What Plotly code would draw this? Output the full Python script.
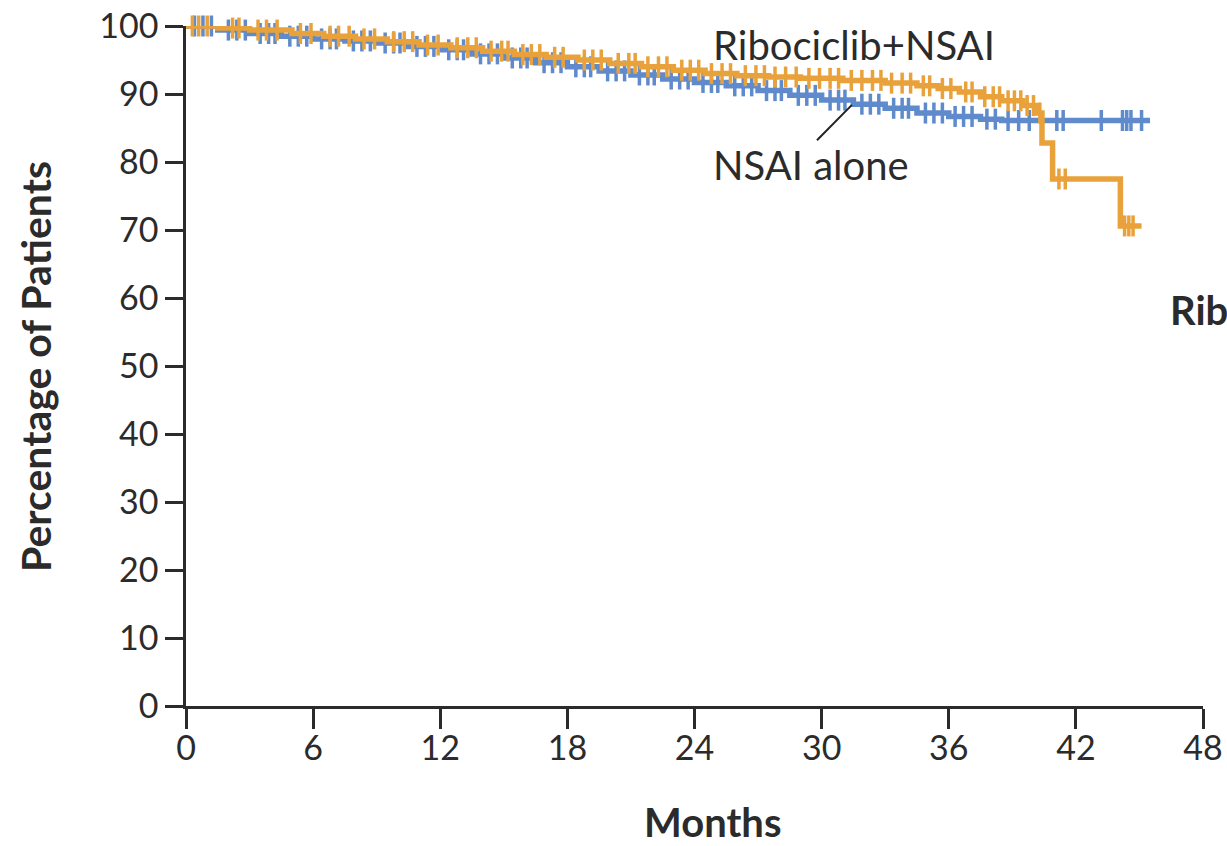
import plotly.graph_objects as go
import bisect

# ---- data ----
# Ribociclib+NSAI : step curve (time in months, percent surviving)
ribo_t = [0, 1.5, 3.0, 5.0, 6.5, 8.0, 9.5, 11.0, 12.5, 14.0, 15.5, 17.0, 18.5, 20.0, 21.5,
          23.0, 24.5, 26.0, 27.5, 29.0, 31.0, 33.0, 34.5, 35.5, 36.5, 37.5, 38.5, 39.5,
          40.2, 40.4, 40.9, 44.1]
ribo_s = [100, 99.7, 99.4, 98.9, 98.5, 98.1, 97.7, 97.2, 96.8, 96.3, 95.8, 95.4, 95.0, 94.5,
          94.0, 93.5, 93.0, 92.7, 92.5, 92.3, 92.0, 91.6, 91.2, 90.8, 90.3, 89.6, 89.0, 88.3,
          87.2, 82.8, 77.5, 70.6]
ribo_end = 45.1
ribo_censor = [0.3, 0.6, 1.0, 2.2, 2.5, 3.4, 3.8, 4.3, 5.4, 5.9, 6.8, 7.2, 7.7, 8.4, 8.9,
               9.8, 10.3, 10.7, 11.4, 11.9, 12.8, 13.3, 13.7, 14.4, 14.9, 15.2, 15.9, 16.3,
               16.7, 17.4, 17.8, 18.8, 19.2, 19.6, 20.4, 20.9, 21.2, 21.8, 22.3, 22.7, 23.4,
               23.8, 24.2, 24.8, 25.3, 25.7, 26.4, 26.9, 27.3, 27.8, 28.3, 28.8, 29.4, 29.9,
               30.4, 30.8, 31.4, 31.9, 32.4, 32.8, 33.3, 33.8, 34.2, 34.8, 35.1, 35.7, 36.1,
               36.8, 37.1, 37.7, 38.1, 38.4, 38.8, 39.1, 39.4, 39.7, 40.0, 40.3, 41.2, 41.5,
               44.3, 44.5, 44.7]

# NSAI alone
nsai_t = [0, 1.5, 3.0, 4.5, 6.0, 7.5, 9.0, 10.5, 12.0, 13.5, 15.0, 16.5, 18.0, 19.5, 21.0,
          22.5, 24.0, 25.5, 27.0, 28.5, 30.0, 31.5, 33.0, 34.5, 36.0, 37.5, 38.5]
nsai_s = [100, 99.4, 98.9, 98.5, 98.1, 97.8, 97.5, 97.0, 96.5, 95.9, 95.3, 94.6, 94.0, 93.4,
          92.8, 92.2, 91.7, 91.2, 90.5, 89.8, 89.1, 88.5, 87.9, 87.2, 86.7, 86.3, 86.1]
nsai_end = 45.5
nsai_censor = [0.4, 0.8, 1.2, 2.0, 2.4, 2.8, 3.5, 3.9, 4.2, 4.9, 5.3, 5.7, 6.4, 6.8, 7.1,
               7.9, 8.3, 8.7, 9.4, 9.8, 10.1, 10.9, 11.3, 11.7, 12.4, 12.8, 13.1, 13.9,
               14.3, 14.7, 15.4, 15.8, 16.1, 16.9, 17.3, 17.7, 18.4, 18.8, 19.1, 19.9, 20.3,
               20.7, 21.4, 21.8, 22.1, 22.9, 23.3, 23.7, 24.4, 24.8, 25.1, 25.9, 26.3, 26.7,
               27.4, 27.8, 28.1, 28.9, 29.3, 29.7, 30.4, 30.8, 31.1, 31.9, 32.3, 32.7, 33.4,
               33.8, 34.1, 34.9, 35.3, 35.7, 36.3, 36.7, 37.1, 37.8, 38.2, 38.8, 39.3, 39.8,
               41.1, 41.4, 43.2, 44.2, 44.4, 44.6, 45.1]

x_ticks = [0, 6, 12, 18, 24, 30, 36, 42, 48]
y_ticks = [0, 10, 20, 30, 40, 50, 60, 70, 80, 90, 100]

ORANGE = "#E9A23B"
BLUE = "#5F8ACB"


def step_value(ts, ss, t):
    i = bisect.bisect_right(ts, t) - 1
    return ss[max(i, 0)]


fig = go.Figure()

for ts, ss, tend, cens, col in [
    (nsai_t, nsai_s, nsai_end, nsai_censor, BLUE),
    (ribo_t, ribo_s, ribo_end, ribo_censor, ORANGE),
]:
    fig.add_trace(go.Scatter(
        x=ts + [tend], y=ss + [ss[-1]], mode="lines",
        line=dict(shape="hv", color=col, width=5.5),
        cliponaxis=False, showlegend=False, hoverinfo="skip"))
    fig.add_trace(go.Scatter(
        x=cens, y=[step_value(ts, ss, c) for c in cens], mode="markers",
        marker=dict(symbol="line-ns", size=15, line=dict(color=col, width=3.5)),
        cliponaxis=False, showlegend=False, hoverinfo="skip"))

FONT = "Lato"
TXT = "#2b2b2b"

fig.update_layout(
    width=1227, height=846,
    margin=dict(l=186, r=24, t=26, b=140),
    paper_bgcolor="white", plot_bgcolor="white",
    font=dict(family=FONT, color=TXT),
    xaxis=dict(range=[0, 48], tickvals=x_ticks, ticktext=[str(v) for v in x_ticks],
               showgrid=False, zeroline=False, showline=True, linecolor=TXT, linewidth=2.5,
               ticks="outside", ticklen=20, tickwidth=2.5, tickcolor=TXT, automargin=False,
               ticklabelstandoff=-10,
               tickfont=dict(size=34, family=FONT, color=TXT)),
    yaxis=dict(range=[0, 100], tickvals=y_ticks, ticktext=[str(v) for v in y_ticks],
               showgrid=False, zeroline=False, showline=True, linecolor=TXT, linewidth=2.5,
               ticks="outside", ticklen=18, tickwidth=2.5, tickcolor=TXT, automargin=False,
               tickfont=dict(size=34, family=FONT, color=TXT)),
    annotations=[
        dict(text="Ribociclib+NSAI", x=24.8, y=97.2, xref="x", yref="y", xanchor="left",
             yanchor="middle", showarrow=False, font=dict(size=40, family=FONT, color=TXT)),
        dict(text="NSAI alone", x=24.8, y=79.6, xref="x", yref="y", xanchor="left",
             yanchor="middle", showarrow=False, font=dict(size=40, family=FONT, color=TXT)),
        dict(text="<b>Rib</b>", x=0.9656, y=58.2, xref="paper", yref="y", xanchor="left",
             yanchor="middle", showarrow=False, font=dict(size=40, family=FONT, color=TXT)),
        dict(text="<b>Percentage of Patients</b>", x=-0.1485, y=0.5, xref="paper",
             yref="paper", xanchor="center", yanchor="middle", textangle=-90,
             showarrow=False, font=dict(size=41, family=FONT, color=TXT)),
        dict(text="<b>Months</b>", x=0.518, y=-0.170, xref="paper", yref="paper",
             xanchor="center", yanchor="middle", showarrow=False, borderpad=0,
             font=dict(size=40, family=FONT, color=TXT)),
    ],
    shapes=[dict(type="line", xref="x", yref="y", x0=29.78, y0=83.2, x1=31.43, y1=88.4,
                 line=dict(color="#222222", width=2))],
)

fig.write_html("out.html")
